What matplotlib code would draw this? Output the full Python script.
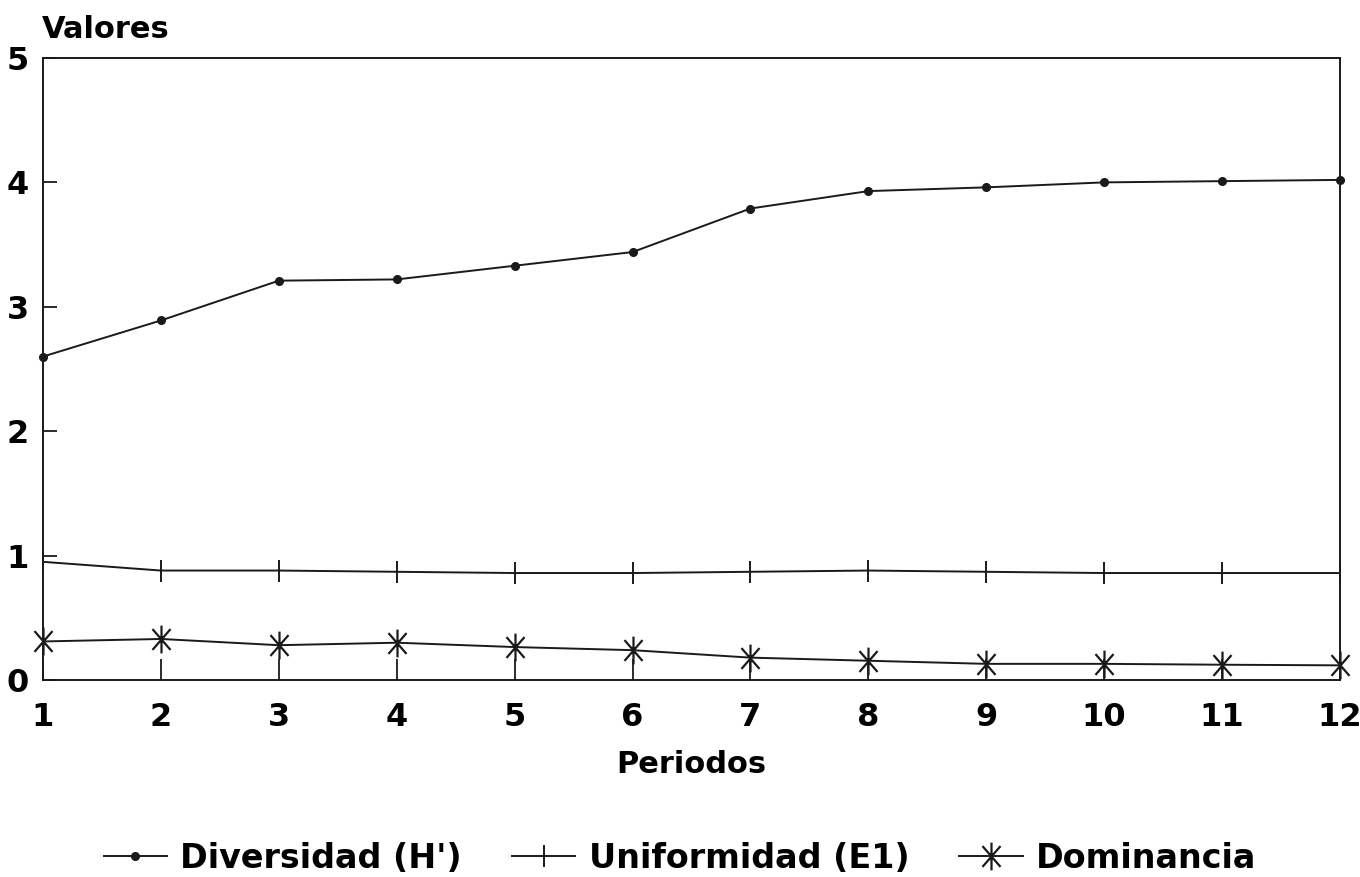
import numpy as np
import matplotlib
matplotlib.use('Agg')
import matplotlib.pyplot as plt
from matplotlib.path import Path

"""
  Indices de diversidad por periodo
"""
periodos = [1, 2, 3, 4, 5, 6, 7, 8, 9, 10, 11, 12]
diversidad = [2.60, 2.89, 3.21, 3.22, 3.33, 3.44, 3.79, 3.93, 3.96, 4.00, 4.01, 4.02]
uniformidad = [0.95, 0.88, 0.88, 0.87, 0.86, 0.86, 0.87, 0.88, 0.87, 0.86, 0.86, 0.86]
dominancia = [0.31, 0.33, 0.28, 0.30, 0.265, 0.24, 0.18, 0.155, 0.13, 0.13, 0.123, 0.118]
y_ticks = [0, 1, 2, 3, 4, 5]

plt.rcParams['font.family'] = ['DejaVu Sans']
plt.rcParams['font.weight'] = 'bold'

# asterisco: vertical + dos diagonales
star = Path([(0, -1), (0, 1), (-0.65, -0.75), (0.65, 0.75), (-0.65, 0.75), (0.65, -0.75)],
            [Path.MOVETO, Path.LINETO, Path.MOVETO, Path.LINETO, Path.MOVETO, Path.LINETO])

fig = plt.figure(figsize=(13.6, 8.77), dpi=100)
ax1 = fig.add_axes([0.0316, 0.2246, 0.9537, 0.7093])

c = '#1a1a1a'
ax1.plot(periodos, diversidad, color=c, lw=1.4, marker='o', ms=5.5, label="Diversidad (H')", clip_on=False)
ax1.plot(periodos, uniformidad, color=c, lw=1.4, marker='|', ms=16, mew=1.4, label='Uniformidad (E1)', clip_on=False)
ax1.plot(periodos, dominancia, color=c, lw=1.4, marker=star, ms=20, mew=1.6, mfc='none', label='Dominancia', clip_on=False)

ax1.set_xlim(1, 12)
ax1.set_ylim(0, 5)
ax1.set_xticks(periodos)
ax1.set_yticks(y_ticks)
ax1.tick_params(axis='both', direction='in', labelsize=23, width=1.3, colors=c)
ax1.tick_params(axis='x', length=15, pad=16)
ax1.tick_params(axis='y', length=10, pad=10)
for lab in ax1.get_xticklabels() + ax1.get_yticklabels():
    lab.set_color('black')
for s in ax1.spines.values():
    s.set_linewidth(1.4)
    s.set_color(c)

fig.text(42 / 1360, 1 - 30 / 877, 'Valores', fontsize=22, fontweight='bold', ha='left', va='center')
ax1.set_xlabel('Periodos', fontsize=22, fontweight='bold', labelpad=12)

leg = fig.legend(loc='center', bbox_to_anchor=(0.5, 1 - 858 / 877), ncol=3, frameon=False,
                 fontsize=24, handlelength=1.9, handletextpad=0.4, columnspacing=1.5)
for t in leg.get_texts():
    t.set_fontweight('bold')

fig.savefig('out.png', dpi=100)
